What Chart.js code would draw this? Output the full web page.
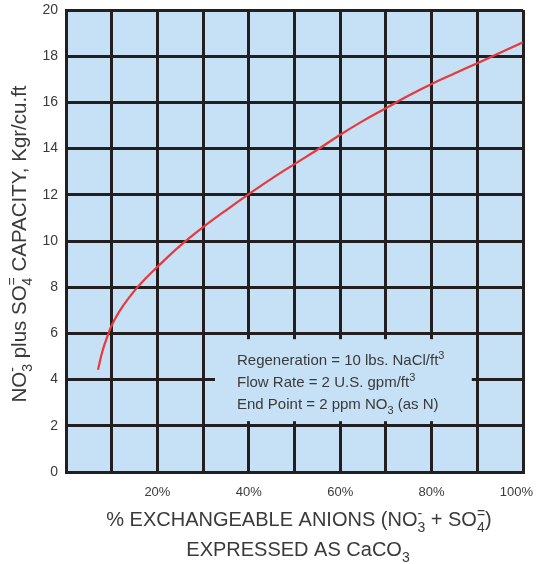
<!DOCTYPE html>
<html>
<head>
<meta charset="utf-8">
<script src="https://cdn.jsdelivr.net/npm/chart.js@4.4.1/dist/chart.umd.min.js"></script>
<style>
  html, body { margin: 0; padding: 0; background: #fff; }
</style>
</head>
<body>
<canvas id="chart" width="536" height="564"></canvas>
<script>
// capacity curve (x = % exchangeable anions, y = Kgr/cu.ft)
const anionPct = [7, 8, 9.3, 10, 12, 15, 17.5, 20, 25, 30, 35, 40, 45, 50, 55, 60, 65, 70, 75, 80, 85, 90, 95, 100];
const capacity = [4.43, 5.25, 6.0, 6.35, 7.05, 7.85, 8.4, 8.88, 9.8, 10.6, 11.33, 12.03, 12.7, 13.33, 13.95, 14.6, 15.2, 15.75, 16.3, 16.8, 17.25, 17.7, 18.15, 18.6];
const xTickValues = [20, 40, 60, 80, 100];
const xTickLabels = ["20%", "40%", "60%", "80%", "100%"];

const FONT = '"Liberation Sans", Arial, Helvetica, sans-serif';
const INK = "#231f20";
const TEXT = "#3a3a3a";
const PANEL = "#c6e0f5";

// rich text pieces: {t} plain, {sub, sup} stacked small text
const yTitle = [{ t: "NO" }, { sub: "3", sup: "-" }, { t: " plus SO" }, { sub: "4", sup: "=" }, { t: " CAPACITY, Kgr/cu.ft" }];
const xTitle1 = [{ t: "% EXCHANGEABLE ANIONS (NO" }, { sub: "3", sup: "-" }, { t: " + SO" }, { sub: "4", sup: "=" }, { t: ")" }];
const xTitle2 = [{ t: "EXPRESSED AS CaCO" }, { sub: "3" }];
const noteLines = [
  [{ t: "Regeneration = 10 lbs. NaCl/ft" }, { sup: "3" }],
  [{ t: "Flow Rate = 2 U.S. gpm/ft" }, { sup: "3" }],
  [{ t: "End Point = 2 ppm NO" }, { sub: "3" }, { t: " (as N)" }]
];

function partWidth(ctx, p, size) {
  if (p.t) {
    ctx.font = size + "px " + FONT;
    return ctx.measureText(p.t).width;
  }
  ctx.font = Math.round(size * 0.7) + "px " + FONT;
  return Math.max(p.sub ? ctx.measureText(p.sub).width : 0, p.sup ? ctx.measureText(p.sup).width : 0);
}

function drawRich(ctx, parts, x, y, size, align) {
  const widths = parts.map(p => partWidth(ctx, p, size));
  const total = widths.reduce((a, b) => a + b, 0);
  let cx = align === "center" ? x - total / 2 : align === "right" ? x - total : x;
  ctx.textAlign = "left";
  ctx.textBaseline = "alphabetic";
  parts.forEach((p, i) => {
    if (p.t) {
      ctx.font = size + "px " + FONT;
      ctx.fillText(p.t, cx, y);
    } else {
      ctx.font = Math.round(size * 0.7) + "px " + FONT;
      if (p.sub) ctx.fillText(p.sub, cx, y + size * 0.3);
      if (p.sup) ctx.fillText(p.sup, cx, y - size * 0.42);
    }
    cx += widths[i];
  });
}

const panelBg = {
  id: "panelBg",
  beforeDraw(chart) {
    const { ctx, chartArea: a } = chart;
    ctx.save();
    ctx.fillStyle = PANEL;
    ctx.fillRect(a.left, a.top, a.right - a.left, a.bottom - a.top);
    ctx.restore();
  }
};

const annotations = {
  id: "annotations",
  afterDraw(chart) {
    const { ctx, scales: { x, y } } = chart;
    ctx.save();
    ctx.fillStyle = TEXT;

    // x tick labels
    ctx.font = "13px " + FONT;
    ctx.textBaseline = "middle";
    xTickValues.forEach((v, i) => {
      const px = x.getPixelForValue(v);
      if (v === 100) {
        ctx.textAlign = "right";
        ctx.fillText(xTickLabels[i], 533, 492);
      } else {
        ctx.textAlign = "center";
        ctx.fillText(xTickLabels[i], px, 492);
      }
    });

    // axis titles
    drawRich(ctx, xTitle1, 299, 526, 20, "center");
    drawRich(ctx, xTitle2, 298, 556, 20, "center");

    ctx.save();
    ctx.translate(26, 244);
    ctx.rotate(-Math.PI / 2);
    drawRich(ctx, yTitle, 0, 0, 20.5, "center");
    ctx.restore();

    // note box, covering the grid
    const bx0 = x.getPixelForValue(32.6), bx1 = x.getPixelForValue(88.8);
    const by0 = y.getPixelForValue(5.75), by1 = y.getPixelForValue(2.2);
    ctx.fillStyle = PANEL;
    ctx.fillRect(bx0, by0, bx1 - bx0, by1 - by0);
    ctx.fillStyle = TEXT;
    noteLines.forEach((line, i) => {
      drawRich(ctx, line, 237, 365 + i * 22, 15, "left");
    });
    ctx.restore();
  }
};

const ctx = document.getElementById("chart").getContext("2d");
new Chart(ctx, {
  type: "line",
  data: {
    datasets: [{
      data: anionPct.map((v, i) => ({ x: v, y: capacity[i] })),
      borderColor: "#e8383a",
      borderWidth: 2.2,
      pointRadius: 0,
      tension: 0.4,
      fill: false
    }]
  },
  options: {
    responsive: false,
    animation: false,
    devicePixelRatio: 1,
    layout: { padding: { top: 10, right: 13, left: 0, bottom: 0 } },
    plugins: { legend: { display: false }, tooltip: { enabled: false } },
    scales: {
      x: {
        type: "linear",
        min: 0,
        max: 100,
        ticks: { stepSize: 10, display: false },
        grid: { color: INK, lineWidth: 3, drawTicks: false },
        border: { color: INK, width: 3 },
        afterFit: s => { s.height = 92; }
      },
      y: {
        min: 0,
        max: 20,
        ticks: { stepSize: 2, color: TEXT, padding: 8, font: { size: 14, family: FONT } },
        grid: { color: INK, lineWidth: 3, drawTicks: false },
        border: { color: INK, width: 3 },
        afterFit: s => { s.width = 66; s.paddingTop = 0; s.paddingBottom = 0; }
      }
    }
  },
  plugins: [panelBg, annotations]
});
</script>
</body>
</html>
